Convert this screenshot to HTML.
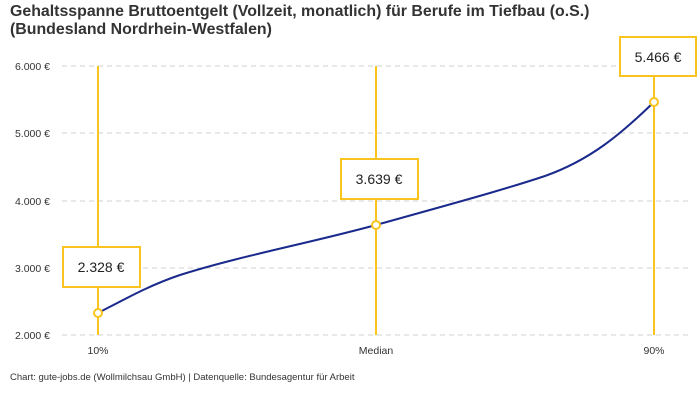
<!DOCTYPE html>
<html><head><meta charset="utf-8"><style>
body{margin:0;background:#fff;width:700px;height:400px;overflow:hidden;font-family:"Liberation Sans",sans-serif}
</style></head><body>
<svg width="700" height="400" xmlns="http://www.w3.org/2000/svg" font-family="Liberation Sans, sans-serif">
<text x="10" y="16" font-size="15.9" font-weight="bold" fill="#333">Gehaltsspanne Bruttoentgelt (Vollzeit, monatlich) für Berufe im Tiefbau (o.S.)</text>
<text x="10" y="34" font-size="15.9" font-weight="bold" fill="#333">(Bundesland Nordrhein-Westfalen)</text>
<g stroke="#d0d0d0" stroke-dasharray="5,4" stroke-width="1">
<line x1="62" y1="66" x2="692" y2="66"/><line x1="62" y1="133" x2="692" y2="133"/><line x1="62" y1="201" x2="692" y2="201"/><line x1="62" y1="268" x2="692" y2="268"/><line x1="62" y1="335" x2="692" y2="335"/>
</g>
<g font-size="10.5" fill="#333" text-anchor="end">
<text x="50" y="70">6.000 €</text><text x="50" y="137">5.000 €</text><text x="50" y="205">4.000 €</text><text x="50" y="272">3.000 €</text><text x="50" y="339">2.000 €</text>
</g>
<g font-size="10.5" fill="#333" text-anchor="middle">
<text x="98" y="354">10%</text><text x="376" y="354">Median</text><text x="654" y="354">90%</text>
</g>
<g stroke="#f9c41e" stroke-width="2">
<line x1="98" y1="66" x2="98" y2="335"/><line x1="376" y1="66" x2="376" y2="335"/><line x1="654" y1="66" x2="654" y2="335"/>
</g>
<path d="M98,313 C125,299 150,285 180,275 C240,256 310,243 376,225 C440,207 500,191 545,176 C590,160 620,135 654,102" fill="none" stroke="#1a2a8c" stroke-width="2"/>
<g fill="#fff" stroke="#f9c41e" stroke-width="2">
<circle cx="98" cy="313" r="4"/><circle cx="376" cy="225" r="4"/><circle cx="654" cy="102" r="4"/>
<rect x="63" y="247" width="77" height="40"/><rect x="341" y="159" width="77" height="40"/><rect x="620" y="37" width="76" height="39"/>
</g>
<g font-size="14" fill="#222" text-anchor="middle">
<text x="101" y="272">2.328 €</text><text x="379" y="184">3.639 €</text><text x="658" y="62">5.466 €</text>
</g>
<text x="10" y="380" font-size="9.5" fill="#333">Chart: gute-jobs.de (Wollmilchsau GmbH) | Datenquelle: Bundesagentur für Arbeit</text>
</svg>
</body></html>
